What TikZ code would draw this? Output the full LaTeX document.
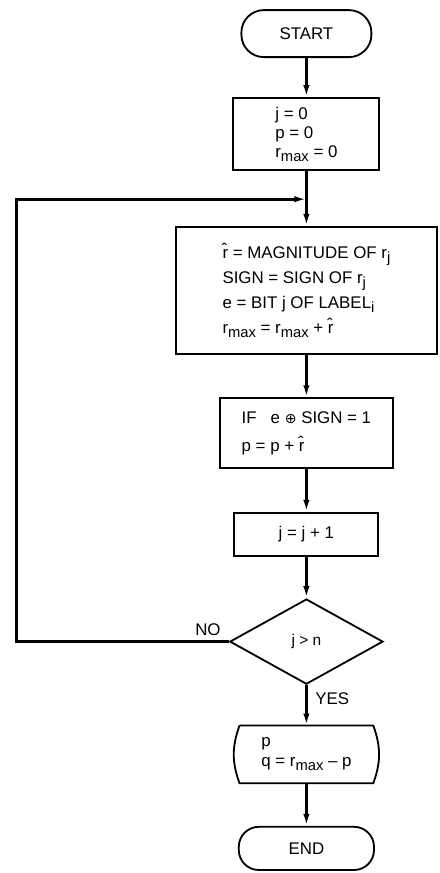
\documentclass[tikz,border=0pt]{standalone}
\usepackage{fontspec}
\setmainfont{Liberation Sans}
\newfontfamily\flsym{DejaVu Sans}
\usetikzlibrary{arrows.meta,positioning,shapes.geometric}
\newcommand{\flsub}[1]{\raisebox{-0.45ex}{\fontsize{10.5}{12}\selectfont #1}}
\newcommand{\rhat}{\^{r}}
\tikzset{
  flbox/.style={draw=black, line width=1.3pt, align=left, inner sep=3pt,
    font=\fontsize{12}{14}\selectfont},
  flterm/.style={flbox, align=center},
  fldia/.style={draw=black, line width=1.3pt, diamond, aspect=1.8, inner sep=0pt,
    minimum width=3.83cm, minimum height=2.13cm, font=\fontsize{11}{13}\selectfont},
  flarrow/.style={-{Latex[length=3mm,width=1.6mm]}, line width=2pt, draw=black},
  fllabel/.style={inner sep=0pt, font=\fontsize{12}{14}\selectfont}
}

\begin{document}
\begin{tikzpicture}
  \useasboundingbox (0cm,0cm) rectangle (11cm,-21.825cm);
  \node[flterm, minimum width=3.25cm, minimum height=1.175cm, rounded corners=0.56cm] (mS) at (7.66cm,-0.84cm) {START};
  \node[flbox, minimum width=3.65cm, minimum height=1.8cm, font=\fontsize{12}{13.5}\selectfont] (mI) at (7.66cm,-3.35cm) {j = 0\\p = 0\\r\flsub{max} = 0};
  \node[flbox, minimum width=6.53cm, minimum height=3.18cm, font=\fontsize{12}{17.8}\selectfont] (mM) at (7.66cm,-7.26cm) {\rhat{} = MAGNITUDE OF r\flsub{j}\\SIGN = SIGN OF r\flsub{j}\\e = BIT j OF LABEL\flsub{i}\\r\flsub{max} = r\flsub{max} + \rhat};
  \node[flbox, minimum width=4.33cm, minimum height=1.75cm, font=\fontsize{12}{19.9}\selectfont] (mC) at (7.66cm,-10.83cm) {IF\ \ \ e {\flsym\fontsize{10}{12}\selectfont ⊕} SIGN = 1\\p = p + \rhat};
  \node[flbox, minimum width=3.6cm, minimum height=1.08cm] (mJ) at (7.66cm,-13.36cm) {j = j + 1};
  \node[fldia] (mD) at (7.66cm,-16.04cm) {j > n};
  \node[align=left, inner sep=3pt, minimum width=3.33cm, minimum height=1.43cm, font=\fontsize{12}{14.2}\selectfont] (mO) at (7.66cm,-18.86cm) {p\\q = r\flsub{max} \textendash{} p};
  \draw[line width=1.3pt] (mO.north west) -- (mO.north east) to[bend left=20] (mO.south east)
    -- (mO.south west) to[bend left=20] (mO.north west);
  \node[flterm, minimum width=3.38cm, minimum height=1.08cm, rounded corners=0.5cm] (mE) at (7.66cm,-21.21cm) {END};
  \coordinate (mrg) at (7.66cm,-4.98cm);
  \coordinate (lpc) at (0.42cm,-4.98cm);
  \node[fllabel, above left=0.14cm and 0.2cm of mD.west] (lno) {NO};
  \node[fllabel, below right=0.18cm and 0.22cm of mD.south] (lyes) {YES};
  \draw[flarrow] (mS) -- (mI);
  \draw[flarrow] (mI) -- (mM);
  \draw[flarrow] (mM) -- (mC);
  \draw[flarrow] (mC) -- (mJ);
  \draw[flarrow] (mJ) -- (mD);
  \draw[flarrow] (mD) -- (mO);
  \draw[flarrow] (mO) -- (mE);
  \draw[flarrow] (mD.west) -| (lpc) -- (mrg);
\end{tikzpicture}
\end{document}
